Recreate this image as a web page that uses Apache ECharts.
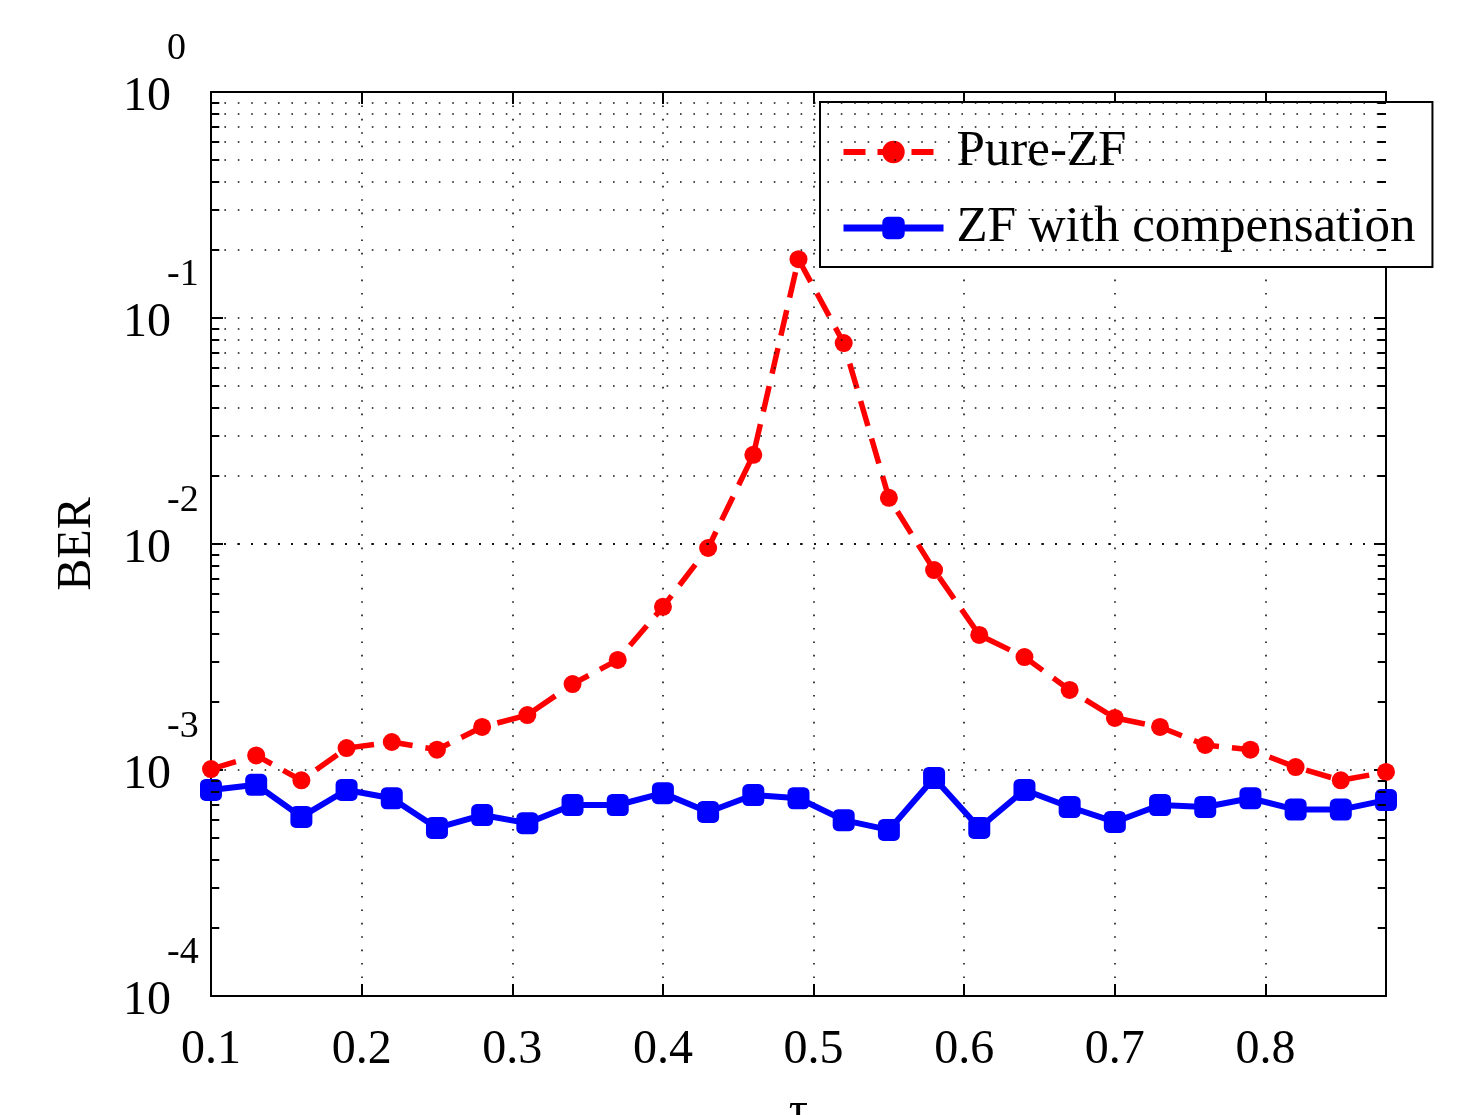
<!DOCTYPE html>
<html>
<head>
<meta charset="utf-8">
<script src="https://cdn.jsdelivr.net/npm/echarts@6/dist/echarts.min.js"></script>
<style>
html,body{margin:0;padding:0;background:#fff;}
#chart{width:1475px;height:1115px;}
</style>
</head>
<body>
<div id="chart"></div>
<script>
// ---- data ----
const tau = [0.10,0.13,0.16,0.19,0.22,0.25,0.28,0.31,0.34,0.37,0.40,0.43,0.46,0.49,0.52,0.55,0.58,0.61,0.64,0.67,0.70,0.73,0.76,0.79,0.82,0.85,0.88];
const pureZF = [1.01e-3,1.16e-3,9.0e-4,1.25e-3,1.33e-3,1.23e-3,1.55e-3,1.75e-3,2.40e-3,3.07e-3,5.27e-3,9.6e-3,2.48e-2,0.182,7.75e-2,1.60e-2,7.67e-3,3.96e-3,3.16e-3,2.26e-3,1.70e-3,1.55e-3,1.29e-3,1.23e-3,1.03e-3,9.0e-4,9.8e-4];
const zfComp = [8.16e-4,8.6e-4,6.2e-4,8.16e-4,7.5e-4,5.54e-4,6.32e-4,5.82e-4,7.0e-4,7.0e-4,7.9e-4,6.52e-4,7.75e-4,7.5e-4,6.0e-4,5.43e-4,9.22e-4,5.54e-4,8.16e-4,6.86e-4,5.89e-4,7.0e-4,6.86e-4,7.5e-4,6.68e-4,6.68e-4,7.36e-4];
const seriesNames = ['Pure-ZF', 'ZF with compensation'];
const yDecades = [-4, -3, -2, -1];
const minorMultipliers = [2, 3, 4, 5, 6, 7, 8, 9];
const xName = 'τ';
const yName = 'BER';

const X_MIN = 0.1, X_MAX = 0.88, Y_MIN = 1e-4, Y_MAX = 1;
const FONT = '"Liberation Serif", "Times New Roman", serif';
const dotted = { color: '#111', width: 1.6, type: [1.6, 11.8] };
const RED = '#ff0000', BLUE = '#0000ff';

// minor gridlines and minor ticks (log decades)
const minorVals = [];
yDecades.forEach(d => minorMultipliers.forEach(m => minorVals.push(m * Math.pow(10, d))));
const minorGrid = minorVals.map(v => ({ yAxis: v }));
const tickLen = 0.0055;
const minorTicks = [];
minorVals.forEach(v => {
  minorTicks.push([{ coord: [X_MIN, v] }, { coord: [X_MIN + tickLen, v] }]);
  minorTicks.push([{ coord: [X_MAX - tickLen, v] }, { coord: [X_MAX, v] }]);
});

const chart = echarts.init(document.getElementById('chart'), null, { renderer: 'canvas' });

const axisLineStyle = { color: '#000', width: 2 };

const option = {
  animation: false,
  backgroundColor: '#fff',
  grid: { left: 211, right: 89, top: 92, bottom: 119, containLabel: false, outerBoundsMode: 'none' },
  legend: {
    data: [
      { name: seriesNames[0], lineStyle: { color: RED, width: 6, type: [22, 12] } },
      { name: seriesNames[1], lineStyle: { color: BLUE, width: 7, type: 'solid' } }
    ],
    orient: 'vertical',
    left: 820, top: 102,
    padding: [20, 17, 9, 20],
    itemWidth: 100, itemHeight: 28, itemGap: 16,
    backgroundColor: '#fff',
    borderColor: '#000', borderWidth: 2,
    textStyle: { fontFamily: FONT, fontSize: 51, color: '#000', lineHeight: 60, padding: [0, 0, 0, 8] }
  },
  xAxis: [{
    type: 'value', min: X_MIN, max: X_MAX, interval: 0.1,
    position: 'bottom',
    name: xName, nameLocation: 'middle', nameGap: 92,
    nameTextStyle: { fontFamily: FONT, fontSize: 48, color: '#000' },
    axisLine: { show: true, onZero: false, lineStyle: axisLineStyle },
    axisTick: { show: true, inside: true, length: 12, lineStyle: axisLineStyle },
    axisLabel: {
      show: true, margin: 30, showMaxLabel: false,
      fontFamily: FONT, fontSize: 48, color: '#000',
      formatter: v => v.toFixed(1)
    },
    splitLine: { show: true, lineStyle: dotted }
  }, {
    type: 'value', min: X_MIN, max: X_MAX, interval: 0.1,
    position: 'top',
    axisLine: { show: true, onZero: false, lineStyle: axisLineStyle },
    axisTick: { show: true, inside: true, length: 12, lineStyle: axisLineStyle },
    axisLabel: { show: false },
    splitLine: { show: false }
  }],
  yAxis: [{
    type: 'log', logBase: 10, min: Y_MIN, max: Y_MAX, interval: 1,
    position: 'left',
    name: yName, nameLocation: 'middle', nameGap: 110, nameRotate: 90,
    nameTextStyle: { fontFamily: FONT, fontSize: 48, color: '#000' },
    axisLine: { show: true, onZero: false, lineStyle: axisLineStyle },
    axisTick: { show: true, inside: true, length: 12, lineStyle: axisLineStyle },
    axisLabel: {
      show: true, margin: 10,
      formatter: v => {
        const e = Math.round(Math.log10(v));
        return '{e|' + e + '}\n{b|10}\n{n| }';
      },
      rich: {
        e: { fontFamily: FONT, fontSize: 38, color: '#000', lineHeight: 46, width: 34, padding: [0, 0, 0, 44], align: 'left' },
        b: { fontFamily: FONT, fontSize: 48, color: '#000', lineHeight: 50, align: 'left' },
        n: { fontFamily: FONT, fontSize: 10, lineHeight: 36, align: 'left' }
      }
    },
    splitLine: { show: true, lineStyle: dotted }
  }, {
    type: 'log', logBase: 10, min: Y_MIN, max: Y_MAX, interval: 1,
    position: 'right',
    axisLine: { show: true, onZero: false, lineStyle: axisLineStyle },
    axisTick: { show: true, inside: true, length: 12, lineStyle: axisLineStyle },
    axisLabel: { show: false },
    splitLine: { show: false }
  }],
  series: [{
    name: seriesNames[0],
    type: 'line',
    data: tau.map((x, i) => [x, pureZF[i]]),
    symbol: 'circle', symbolSize: 18,
    itemStyle: { color: RED },
    lineStyle: { color: RED, width: 5.5, type: [26, 13] },
    z: 3,
    markLine: {
      silent: true, symbol: ['none', 'none'], label: { show: false },
      lineStyle: dotted, animation: false,
      emphasis: { disabled: true },
      data: minorGrid
    }
  }, {
    name: seriesNames[1],
    type: 'line',
    data: tau.map((x, i) => [x, zfComp[i]]),
    symbol: 'roundRect', symbolSize: 22,
    itemStyle: { color: BLUE },
    lineStyle: { color: BLUE, width: 6 },
    z: 4,
    markLine: {
      silent: true, symbol: ['none', 'none'], label: { show: false },
      lineStyle: { color: '#000', width: 2, type: 'solid' }, animation: false,
      emphasis: { disabled: true },
      data: minorTicks
    }
  }]
};
chart.setOption(option);
</script>
</body>
</html>
